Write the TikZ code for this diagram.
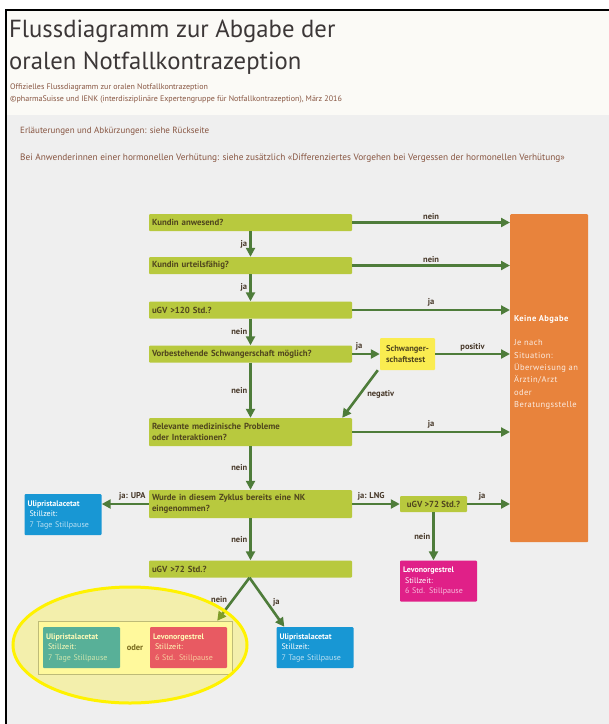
\documentclass[tikz,border=0pt]{standalone}
\usepackage{fontspec}
\setmainfont{PT Sans}
\usetikzlibrary{arrows.meta,calc}
\definecolor{boxgreen}{RGB}{184,201,62}
\definecolor{arrgreen}{RGB}{78,124,58}
\definecolor{stoporange}{RGB}{232,131,60}
\definecolor{testyellow}{RGB}{250,236,80}
\definecolor{upablue}{RGB}{24,151,212}
\definecolor{lngpink}{RGB}{224,32,136}
\definecolor{lbltext}{RGB}{70,55,40}
\definecolor{boxtext}{RGB}{80,70,30}
\definecolor{headbg}{RGB}{251,250,246}
\definecolor{pagebg}{RGB}{239,239,239}
\definecolor{subtext}{RGB}{135,85,65}
\definecolor{titletext}{RGB}{60,55,55}

\begin{document}
\begin{tikzpicture}[x=1pt, y=-1pt,
    gbox/.style={fill=boxgreen, rounded corners=1pt, text=boxtext, align=left, inner sep=3pt,
        font=\fontsize{8.8}{11}\selectfont\bfseries},
    qbox/.style={gbox, text width=197pt, minimum height=17pt},
    medbox/.style={rounded corners=1pt, text=white, align=left, inner sep=3pt, anchor=center,
        minimum width=77pt, minimum height=41pt, text width=71pt, font=\fontsize{8}{10.5}\selectfont},
    arr/.style={draw=arrgreen, line width=2.6pt, -{Triangle[length=9pt,width=9pt]}},
    lbl/.style={text=lbltext, font=\fontsize{8.5}{10}\selectfont\bfseries, inner sep=2pt},
    note/.style={text=subtext, anchor=west, inner sep=0pt, font=\fontsize{8}{9}\selectfont}]
    \useasboundingbox (0,0) rectangle (609,724);
    \fill[white] (0,0) rectangle (609,724);
    \fill[headbg] (6,10) rectangle (609,115);
    \fill[pagebg] (6,115) rectangle (609,724);
    \draw[line width=1.5pt] (6,724) -- (6,10) -- (609,10);

    % header
    \node[anchor=north west, inner sep=0pt, align=left, text=titletext,
        font=\fontsize{24.7}{32}\selectfont] (title) at (9,20)
        {Flussdiagramm zur Abgabe der\\oralen Notfallkontrazeption};
    \node[note] (sub1) at (10,87) {Offizielles Flussdiagramm zur oralen Notfallkontrazeption};
    \node[note] (sub2) at (10,100) {©pharmaSuisse und IENK (interdisziplinäre Expertengruppe für Notfallkontrazeption), März 2016};
    \node[note, font=\fontsize{9}{10}\selectfont] (hint1) at (20,131) {Erläuterungen und Abkürzungen: siehe Rückseite};
    \node[note, font=\fontsize{9.3}{10}\selectfont] (hint2) at (20,158) {Bei Anwenderinnen einer hormonellen Verhütung: siehe zusätzlich «Differenziertes Vorgehen bei Vergessen der hormonellen Verhütung»};

    % questions
    \node[qbox] (q1) at (250.5,222.5) {Kundin anwesend?};
    \node[qbox] (q2) at (250.5,265.5) {Kundin urteilsfähig?};
    \node[qbox] (q3) at (250.5,310) {uGV >120 Std.?};
    \node[qbox] (q4) at (250.5,354) {Vorbestehende Schwangerschaft möglich?};
    \node[qbox, minimum height=28pt] (q5) at (250.5,432) {Relevante medizinische Probleme\\oder Interaktionen?};
    \node[qbox, minimum height=28pt] (q6) at (250.5,504) {Wurde in diesem Zyklus bereits eine NK\\eingenommen?};
    \node[qbox] (q7) at (250.5,569) {uGV >72 Std.?};
    \node[gbox, minimum width=67pt, minimum height=16pt, anchor=center] (q6b) at (433.5,504) {uGV >72 Std.?};
    \node[fill=testyellow, rounded corners=1pt, text=boxtext, align=left, minimum width=55pt,
        minimum height=32pt, inner sep=3pt, font=\fontsize{8.5}{10.5}\selectfont\bfseries] (test) at (407.5,354)
        {Schwanger-\\schaftstest};

    % no dispensing
    \node[fill=stoporange, rounded corners=1pt, minimum width=78pt, minimum height=328pt,
        anchor=north west] (stop) at (510,214) {};
    \node[anchor=north west, align=left, text=white!85!stoporange, inner sep=0pt,
        font=\fontsize{8.5}{12.3}\selectfont\addfontfeature{LetterSpace=5}] (stoptxt) at (514,315)
        {\textcolor{white}{\bfseries Keine Abgabe}\\[12.3pt]Je nach\\Situation:\\Überweisung an\\Ärztin/Arzt\\oder\\Beratungsstelle};

    % results
    \node[medbox, fill=upablue] (upa) at (63,514.5)
        {\textbf{Ulipristalacetat}\\\hspace*{2pt}Stillzeit:\\\hspace*{2pt}\textcolor{white!70!upablue}{7 Tage Stillpause}};
    \node[medbox, fill=lngpink] (lng) at (438.5,581)
        {\textbf{Levonorgestrel}\\\hspace*{2pt}Stillzeit:\\\hspace*{2pt}\textcolor{white!70!lngpink}{6 Std. Stillpause}};
    \node[draw=gray!70, fill=yellow!15!white, minimum width=194pt, minimum height=53pt] (grp) at (135,647.5) {};
    \node[medbox, fill=upablue] (upa2) at (81.5,647.5)
        {\textbf{Ulipristalacetat}\\\hspace*{2pt}Stillzeit:\\\hspace*{2pt}\textcolor{white!70!upablue}{7 Tage Stillpause}};
    \node[lbl] (oder) at (135,648) {oder};
    \node[medbox, fill=lngpink] (lng2) at (188.5,647.5)
        {\textbf{Levonorgestrel}\\\hspace*{2pt}Stillzeit:\\\hspace*{2pt}\textcolor{white!70!lngpink}{6 Std. Stillpause}};
    \node[medbox, fill=upablue] (upa3) at (315,647.5)
        {\textbf{Ulipristalacetat}\\\hspace*{2pt}Stillzeit:\\\hspace*{2pt}\textcolor{white!70!upablue}{7 Tage Stillpause}};

    % arrows
    \draw[arr] (q1) -- (q2) node[midway, left, lbl] {ja};
    \draw[arr] (q2) -- (q3) node[midway, left, lbl] {ja};
    \draw[arr] (q3) -- (q4) node[midway, left, lbl] {nein};
    \draw[arr] (q4) -- (q5) node[midway, left, lbl] {nein};
    \draw[arr] (q5) -- (q6) node[midway, left, lbl] {nein};
    \draw[arr] (q6) -- (q7) node[midway, left, lbl] {nein};
    \draw[arr] (q1.east) -- (q1.east -| stop.west) node[midway, above, lbl] {nein};
    \draw[arr] (q2.east) -- (q2.east -| stop.west) node[midway, above, lbl] {nein};
    \draw[arr] (q3.east) -- (q3.east -| stop.west) node[midway, above, lbl] {ja};
    \draw[arr] (q4.east) -- (test.west) node[pos=0.25, above, lbl] {ja};
    \draw[arr] (test.east) -- (test.east -| stop.west) node[midway, above, lbl] {positiv};
    \draw[arr] ($(test.south west)+(-2,0)$) -- ($(q5.north east)+(-10,0)$) node[midway, right=4pt, lbl] {negativ};
    \draw[arr] (q5.east) -- (q5.east -| stop.west) node[midway, above, lbl] {ja};
    \draw[arr] (q6.west) -- (q6.west -| upa.east) node[pos=0.35, above, lbl] {ja: UPA};
    \draw[arr] (q6.east) -- (q6b.west) node[pos=0.4, above, lbl] {ja: LNG};
    \draw[arr] (q6b.east) -- (q6b.east -| stop.west) node[pos=0.35, above, lbl] {ja};
    \draw[arr] (q6b.south) -- (q6b.south |- lng.north) node[midway, left, lbl] {nein};
    \coordinate (split) at ($(q7.south)+(-1,0)$);
    \draw[arr] (split) -- ($(grp.north east)+(-15,0)$) node[midway, left=3pt, lbl] {nein};
    \draw[arr] (split) -- ($(upa3.north west)+(8,0)$) node[midway, right=3pt, lbl] {ja};

    % highlight
    \draw[yellow, line width=3pt, fill=yellow, fill opacity=0.28] (130,645) ellipse [x radius=117pt, y radius=58pt];
\end{tikzpicture}
\end{document}
